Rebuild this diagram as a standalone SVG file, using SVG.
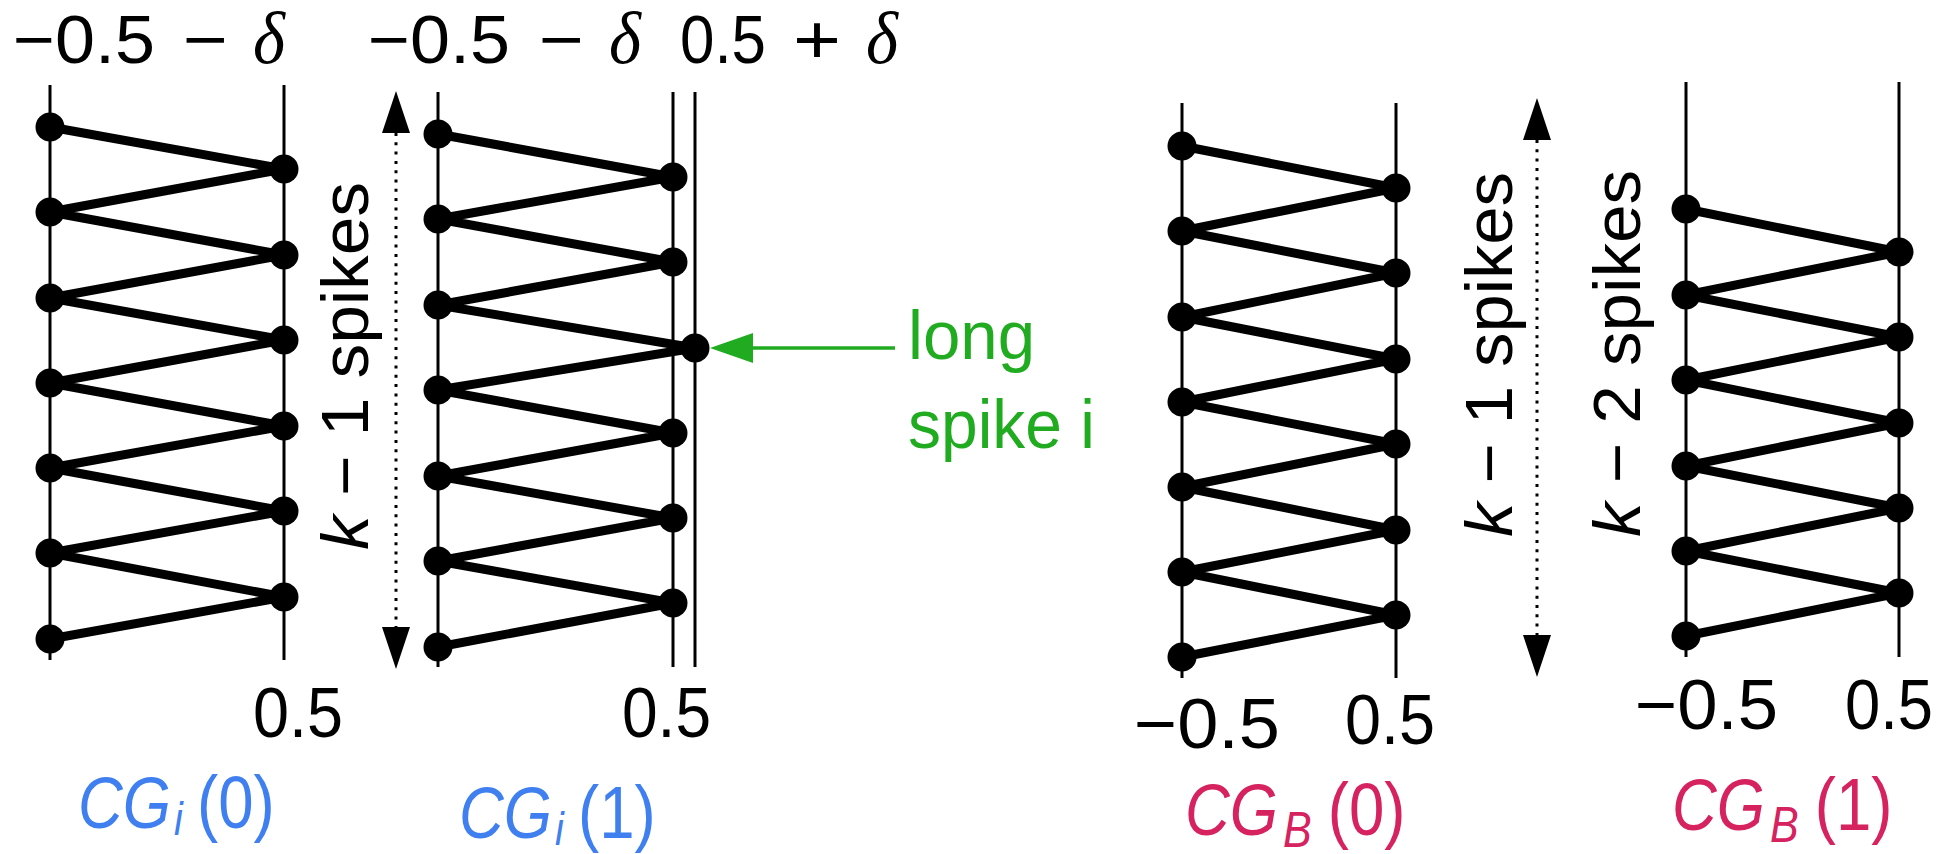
<svg xmlns="http://www.w3.org/2000/svg" width="1953" height="854" viewBox="0 0 1953 854">
<defs>
<style>
.ax{stroke:#000;stroke-width:3;fill:none}
.zz{stroke:#000;stroke-width:9;fill:none;stroke-linejoin:round}
.dot{fill:#000}
.t{font-family:"Liberation Sans",Arial,sans-serif;fill:#000}
.d{font-family:"Liberation Serif","Times New Roman",serif;font-style:italic;fill:#000}
.it{font-style:italic}
.blue{fill:#3f7ff0}
.red{fill:#d6225f}
.grn{fill:#20ab20}
.dotted{stroke:#000;stroke-width:3;stroke-dasharray:3 6.3;fill:none}
</style>
<marker id="ah" viewBox="0 0 42 28" refX="0" refY="14" markerWidth="42" markerHeight="28" markerUnits="userSpaceOnUse" orient="auto-start-reverse">
<path d="M0,0 L42,14 L0,28 z" fill="#000"/>
</marker>
<marker id="gah" viewBox="0 0 43 30" refX="0" refY="15" markerWidth="43" markerHeight="30" markerUnits="userSpaceOnUse" orient="auto">
<path d="M0,0 L43,15 L0,30 z" fill="#20ab20"/>
</marker>
</defs>
<rect width="1953" height="854" fill="#fff"/>

<g id="panel-cgi0">
<line class="ax" x1="50" y1="85" x2="50" y2="660"/>
<line class="ax" x1="284" y1="85" x2="284" y2="660"/>
<path class="zz" d="M50,127 L284,169 L50,212 L284,255 L50,298 L284,340 L50,383 L284,426 L50,468 L284,511 L50,553 L284,597 L50,639"/>
<g class="dot">
<circle cx="50" cy="127" r="14.5"/><circle cx="50" cy="212" r="14.5"/><circle cx="50" cy="298" r="14.5"/><circle cx="50" cy="383" r="14.5"/><circle cx="50" cy="468" r="14.5"/><circle cx="50" cy="553" r="14.5"/><circle cx="50" cy="639" r="14.5"/>
<circle cx="284" cy="169" r="14.5"/><circle cx="284" cy="255" r="14.5"/><circle cx="284" cy="340" r="14.5"/><circle cx="284" cy="426" r="14.5"/><circle cx="284" cy="511" r="14.5"/><circle cx="284" cy="597" r="14.5"/>
</g>
<text class="t" x="13" y="63" font-size="68" textLength="142" lengthAdjust="spacingAndGlyphs">−0.5</text>
<text class="t" x="183" y="63" font-size="68" textLength="45" lengthAdjust="spacingAndGlyphs">−</text>
<text class="d" x="253" y="63" font-size="74" textLength="32" lengthAdjust="spacingAndGlyphs">δ</text>
<text class="t" x="253" y="737" font-size="70" textLength="90" lengthAdjust="spacingAndGlyphs">0.5</text>
<text class="t blue" transform="translate(78,828) scale(0.86,1)"><tspan class="it" font-size="72" x="0" y="0">CG</tspan><tspan class="it" font-size="46" x="111.6" y="7">i</tspan><tspan font-size="74" x="138.4" y="0">(0)</tspan></text>
</g>

<g id="panel-cgi1">
<line class="ax" x1="438" y1="92" x2="438" y2="667"/>
<line class="ax" x1="673" y1="92" x2="673" y2="667"/>
<line class="ax" x1="695" y1="92" x2="695" y2="667"/>
<path class="zz" d="M438,134 L673,177 L438,219 L673,262 L438,305 L695,348 L438,390 L673,433 L438,476 L673,518 L438,561 L673,603 L438,647"/>
<g class="dot">
<circle cx="438" cy="134" r="14.5"/><circle cx="438" cy="219" r="14.5"/><circle cx="438" cy="305" r="14.5"/><circle cx="438" cy="390" r="14.5"/><circle cx="438" cy="476" r="14.5"/><circle cx="438" cy="561" r="14.5"/><circle cx="438" cy="647" r="14.5"/>
<circle cx="673" cy="177" r="14.5"/><circle cx="673" cy="262" r="14.5"/><circle cx="695" cy="348" r="14.5"/><circle cx="673" cy="433" r="14.5"/><circle cx="673" cy="518" r="14.5"/><circle cx="673" cy="603" r="14.5"/>
</g>
<text class="t" x="368" y="63" font-size="68" textLength="142" lengthAdjust="spacingAndGlyphs">−0.5</text>
<text class="t" x="539" y="63" font-size="68" textLength="45" lengthAdjust="spacingAndGlyphs">−</text>
<text class="d" x="609" y="63" font-size="74" textLength="32" lengthAdjust="spacingAndGlyphs">δ</text>
<text class="t" x="680" y="63" font-size="68" textLength="86" lengthAdjust="spacingAndGlyphs">0.5</text>
<text class="t" x="793" y="63" font-size="68" textLength="48" lengthAdjust="spacingAndGlyphs">+</text>
<text class="d" x="866" y="63" font-size="74" textLength="32" lengthAdjust="spacingAndGlyphs">δ</text>
<text class="t" x="622" y="737" font-size="70" textLength="89" lengthAdjust="spacingAndGlyphs">0.5</text>
<text class="t blue" transform="translate(459,838) scale(0.86,1)"><tspan class="it" font-size="72" x="0" y="0">CG</tspan><tspan class="it" font-size="46" x="111.6" y="7">i</tspan><tspan font-size="74" x="138.4" y="0">(1)</tspan></text>
</g>

<g id="panel-cgb0">
<line class="ax" x1="1182" y1="103" x2="1182" y2="678"/>
<line class="ax" x1="1396" y1="103" x2="1396" y2="678"/>
<path class="zz" d="M1182,146 L1396,188 L1182,231 L1396,273 L1182,317 L1396,359 L1182,402 L1396,444 L1182,487 L1396,530 L1182,572 L1396,615 L1182,657"/>
<g class="dot">
<circle cx="1182" cy="146" r="14.5"/><circle cx="1182" cy="231" r="14.5"/><circle cx="1182" cy="317" r="14.5"/><circle cx="1182" cy="402" r="14.5"/><circle cx="1182" cy="487" r="14.5"/><circle cx="1182" cy="572" r="14.5"/><circle cx="1182" cy="657" r="14.5"/>
<circle cx="1396" cy="188" r="14.5"/><circle cx="1396" cy="273" r="14.5"/><circle cx="1396" cy="359" r="14.5"/><circle cx="1396" cy="444" r="14.5"/><circle cx="1396" cy="530" r="14.5"/><circle cx="1396" cy="615" r="14.5"/>
</g>
<text class="t" x="1134" y="748" font-size="70" textLength="146" lengthAdjust="spacingAndGlyphs">−0.5</text>
<text class="t" x="1345" y="744" font-size="70" textLength="90" lengthAdjust="spacingAndGlyphs">0.5</text>
<text class="t red" transform="translate(1185,835) scale(0.86,1)"><tspan class="it" font-size="72" x="0" y="0">CG</tspan><tspan class="it" font-size="50" x="114" y="12">B</tspan><tspan font-size="74" x="166" y="0">(0)</tspan></text>
</g>

<g id="panel-cgb1">
<line class="ax" x1="1686" y1="82" x2="1686" y2="657"/>
<line class="ax" x1="1899" y1="82" x2="1899" y2="657"/>
<path class="zz" d="M1686,209 L1899,252 L1686,295 L1899,337 L1686,380 L1899,423 L1686,466 L1899,508 L1686,551 L1899,593 L1686,636"/>
<g class="dot">
<circle cx="1686" cy="209" r="14.5"/><circle cx="1686" cy="295" r="14.5"/><circle cx="1686" cy="380" r="14.5"/><circle cx="1686" cy="466" r="14.5"/><circle cx="1686" cy="551" r="14.5"/><circle cx="1686" cy="636" r="14.5"/>
<circle cx="1899" cy="252" r="14.5"/><circle cx="1899" cy="337" r="14.5"/><circle cx="1899" cy="423" r="14.5"/><circle cx="1899" cy="508" r="14.5"/><circle cx="1899" cy="593" r="14.5"/>
</g>
<text class="t" x="1635" y="729" font-size="70" textLength="143" lengthAdjust="spacingAndGlyphs">−0.5</text>
<text class="t" x="1845" y="729" font-size="70" textLength="88" lengthAdjust="spacingAndGlyphs">0.5</text>
<text class="t red" transform="translate(1672,830) scale(0.86,1)"><tspan class="it" font-size="72" x="0" y="0">CG</tspan><tspan class="it" font-size="50" x="114" y="12">B</tspan><tspan font-size="74" x="166" y="0">(1)</tspan></text>
</g>

<g id="labels">
<text class="t" transform="translate(368,550) rotate(-90)" font-size="67" textLength="368" lengthAdjust="spacingAndGlyphs"><tspan class="it">k</tspan> − 1 spikes</text>
<text class="t" transform="translate(1512,537) rotate(-90)" font-size="67" textLength="365" lengthAdjust="spacingAndGlyphs"><tspan class="it">k</tspan> − 1 spikes</text>
<text class="t" transform="translate(1640,537) rotate(-90)" font-size="67" textLength="367" lengthAdjust="spacingAndGlyphs"><tspan class="it">k</tspan> − 2 spikes</text>
<text class="t grn" x="908" y="359" font-size="68" textLength="127" lengthAdjust="spacingAndGlyphs">long</text>
<text class="t grn" x="908" y="448" font-size="68" textLength="187" lengthAdjust="spacingAndGlyphs">spike i</text>
</g>

<g id="connectors">
<line class="dotted" x1="396" y1="133" x2="396" y2="627" marker-start="url(#ah)" marker-end="url(#ah)"/>
<line class="dotted" x1="1537" y1="140" x2="1537" y2="635" marker-start="url(#ah)" marker-end="url(#ah)"/>
<line x1="895" y1="348" x2="753" y2="348" stroke="#20ab20" stroke-width="3.5" marker-end="url(#gah)"/>
</g>
</svg>
